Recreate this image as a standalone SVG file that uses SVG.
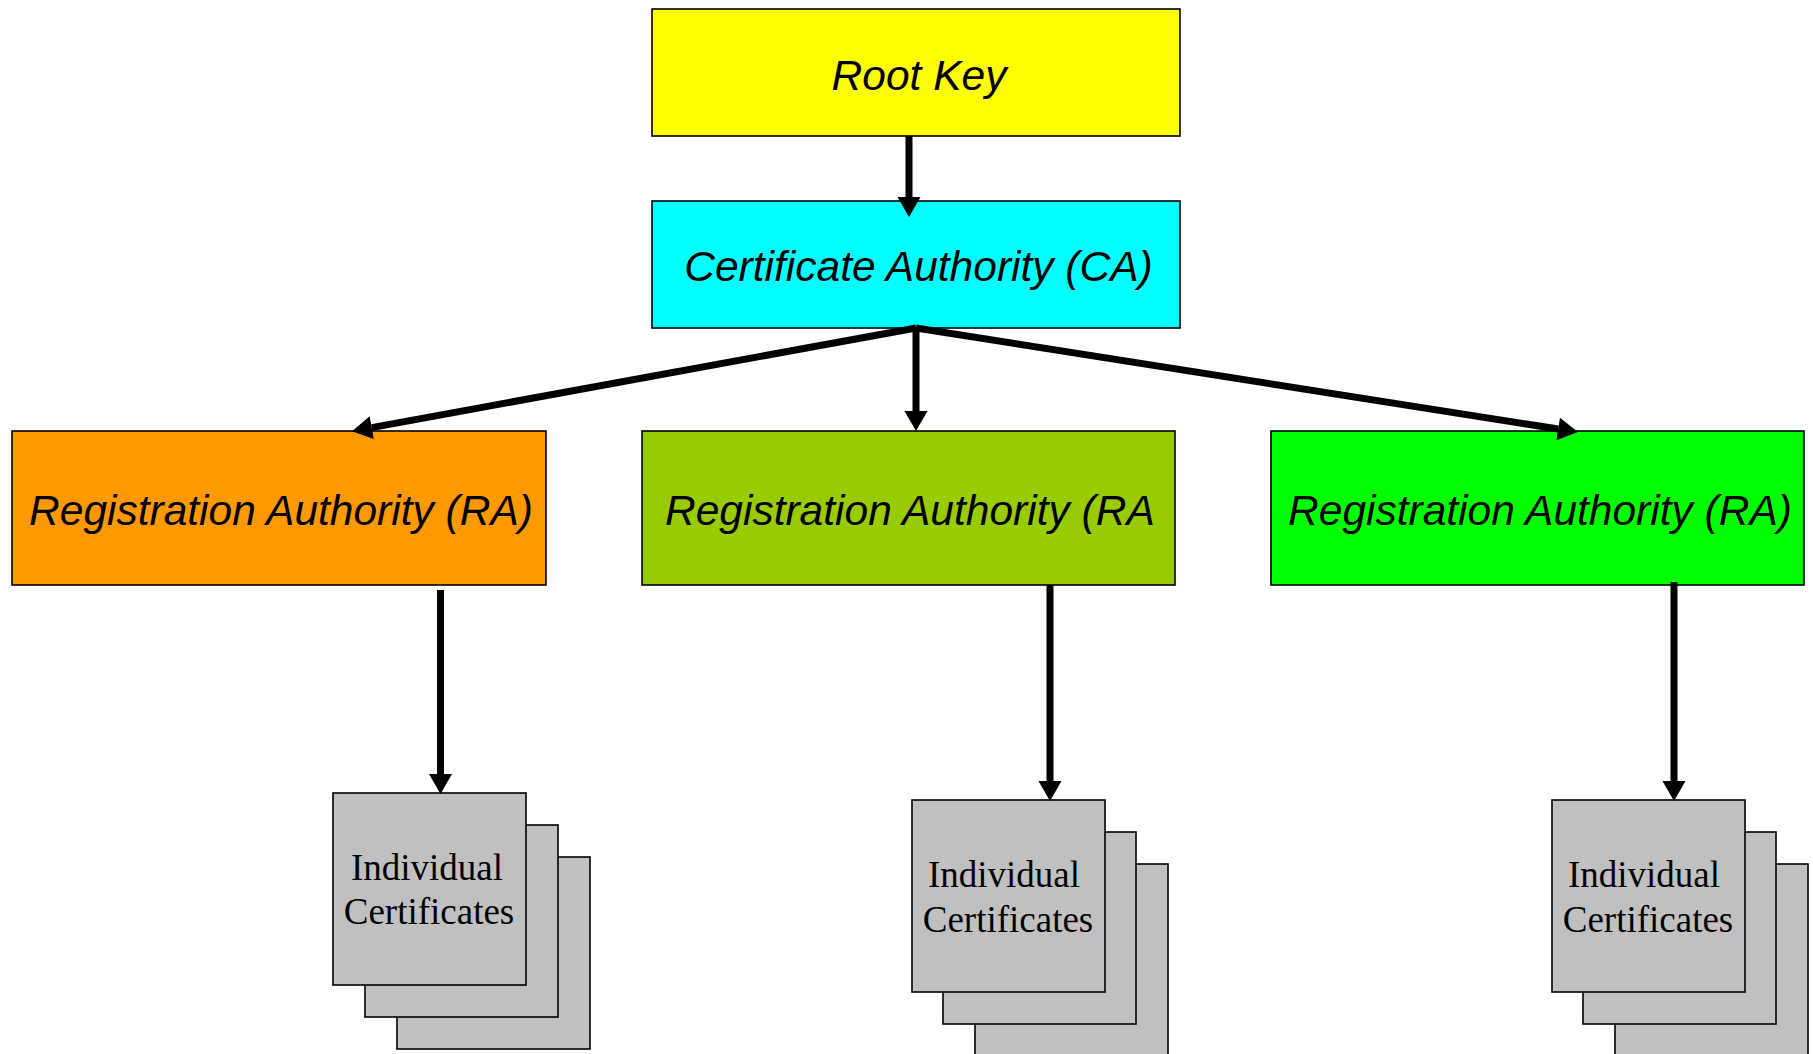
<svg xmlns="http://www.w3.org/2000/svg" width="1813" height="1054" viewBox="0 0 1813 1054">
<style>
.box{stroke:#000;stroke-width:1.6}
.lbl{font-family:"Liberation Sans",Arial,sans-serif;font-style:italic;font-size:42.5px;fill:#000}
.cert{fill:#C0C0C0;stroke:#000;stroke-width:1.6}
.ctxt{font-family:"Liberation Serif","Times New Roman",serif;font-size:37px;fill:#000;text-anchor:middle}
.conn{stroke:#000;stroke-width:7;fill:none}
</style>
<defs>
<marker id="ah" markerUnits="userSpaceOnUse" markerWidth="22" markerHeight="24" refX="0" refY="11.5" orient="auto" overflow="visible">
<path d="M0,0 L20,11.5 L0,23 z" fill="#000"/>
</marker>
</defs>
<rect width="1813" height="1054" fill="#fff"/>
<g id="root">
<rect class="box" x="652" y="9" width="528" height="127" fill="#FFFF00"/>
<text class="lbl" x="919" y="90" text-anchor="middle">Root Key</text>
</g>
<g id="ca">
<rect class="box" x="652" y="201" width="528" height="127" fill="#00FFFF"/>
<text class="lbl" x="918.5" y="281" text-anchor="middle">Certificate Authority (CA)</text>
</g>
<g id="ra1">
<rect class="box" x="12" y="431" width="534" height="154" fill="#FF9900"/>
<text class="lbl" x="281" y="525" text-anchor="middle">Registration Authority (RA)</text>
</g>
<g id="ra2">
<rect class="box" x="642" y="431" width="533" height="154" fill="#99CC00"/>
<text class="lbl" x="665" y="525">Registration Authority (RA</text>
</g>
<g id="ra3">
<rect class="box" x="1271" y="431" width="533" height="154" fill="#00FF00"/>
<text class="lbl" x="1540" y="525" text-anchor="middle">Registration Authority (RA)</text>
</g>
<g id="certs1">
<rect class="cert" x="397" y="857" width="193" height="192"/>
<rect class="cert" x="365" y="825" width="193" height="192"/>
<rect class="cert" x="333" y="793" width="193" height="192"/>
<text class="ctxt" x="427" y="880">Individual</text>
<text class="ctxt" x="429" y="924">Certificates</text>
</g>
<g id="certs2">
<rect class="cert" x="975" y="864" width="193" height="192"/>
<rect class="cert" x="943" y="832" width="193" height="192"/>
<rect class="cert" x="912" y="800" width="193" height="192"/>
<text class="ctxt" x="1004" y="887">Individual</text>
<text class="ctxt" x="1008" y="932">Certificates</text>
</g>
<g id="certs3">
<rect class="cert" x="1615" y="864" width="193" height="192"/>
<rect class="cert" x="1583" y="832" width="193" height="192"/>
<rect class="cert" x="1552" y="800" width="193" height="192"/>
<text class="ctxt" x="1644" y="887">Individual</text>
<text class="ctxt" x="1648" y="932">Certificates</text>
</g>
<g id="connectors">
<line class="conn" x1="909" y1="136" x2="909" y2="197" marker-end="url(#ah)"/>
<line class="conn" x1="916" y1="328" x2="371.7" y2="427.6" marker-end="url(#ah)"/>
<line class="conn" x1="916" y1="328" x2="916" y2="411" marker-end="url(#ah)"/>
<line class="conn" x1="916" y1="328" x2="1558.2" y2="429" marker-end="url(#ah)"/>
<line class="conn" x1="440.5" y1="590" x2="440.5" y2="774" marker-end="url(#ah)"/>
<line class="conn" x1="1050" y1="585" x2="1050" y2="781" marker-end="url(#ah)"/>
<line class="conn" x1="1674" y1="582" x2="1674" y2="781" marker-end="url(#ah)"/>
</g>
</svg>
